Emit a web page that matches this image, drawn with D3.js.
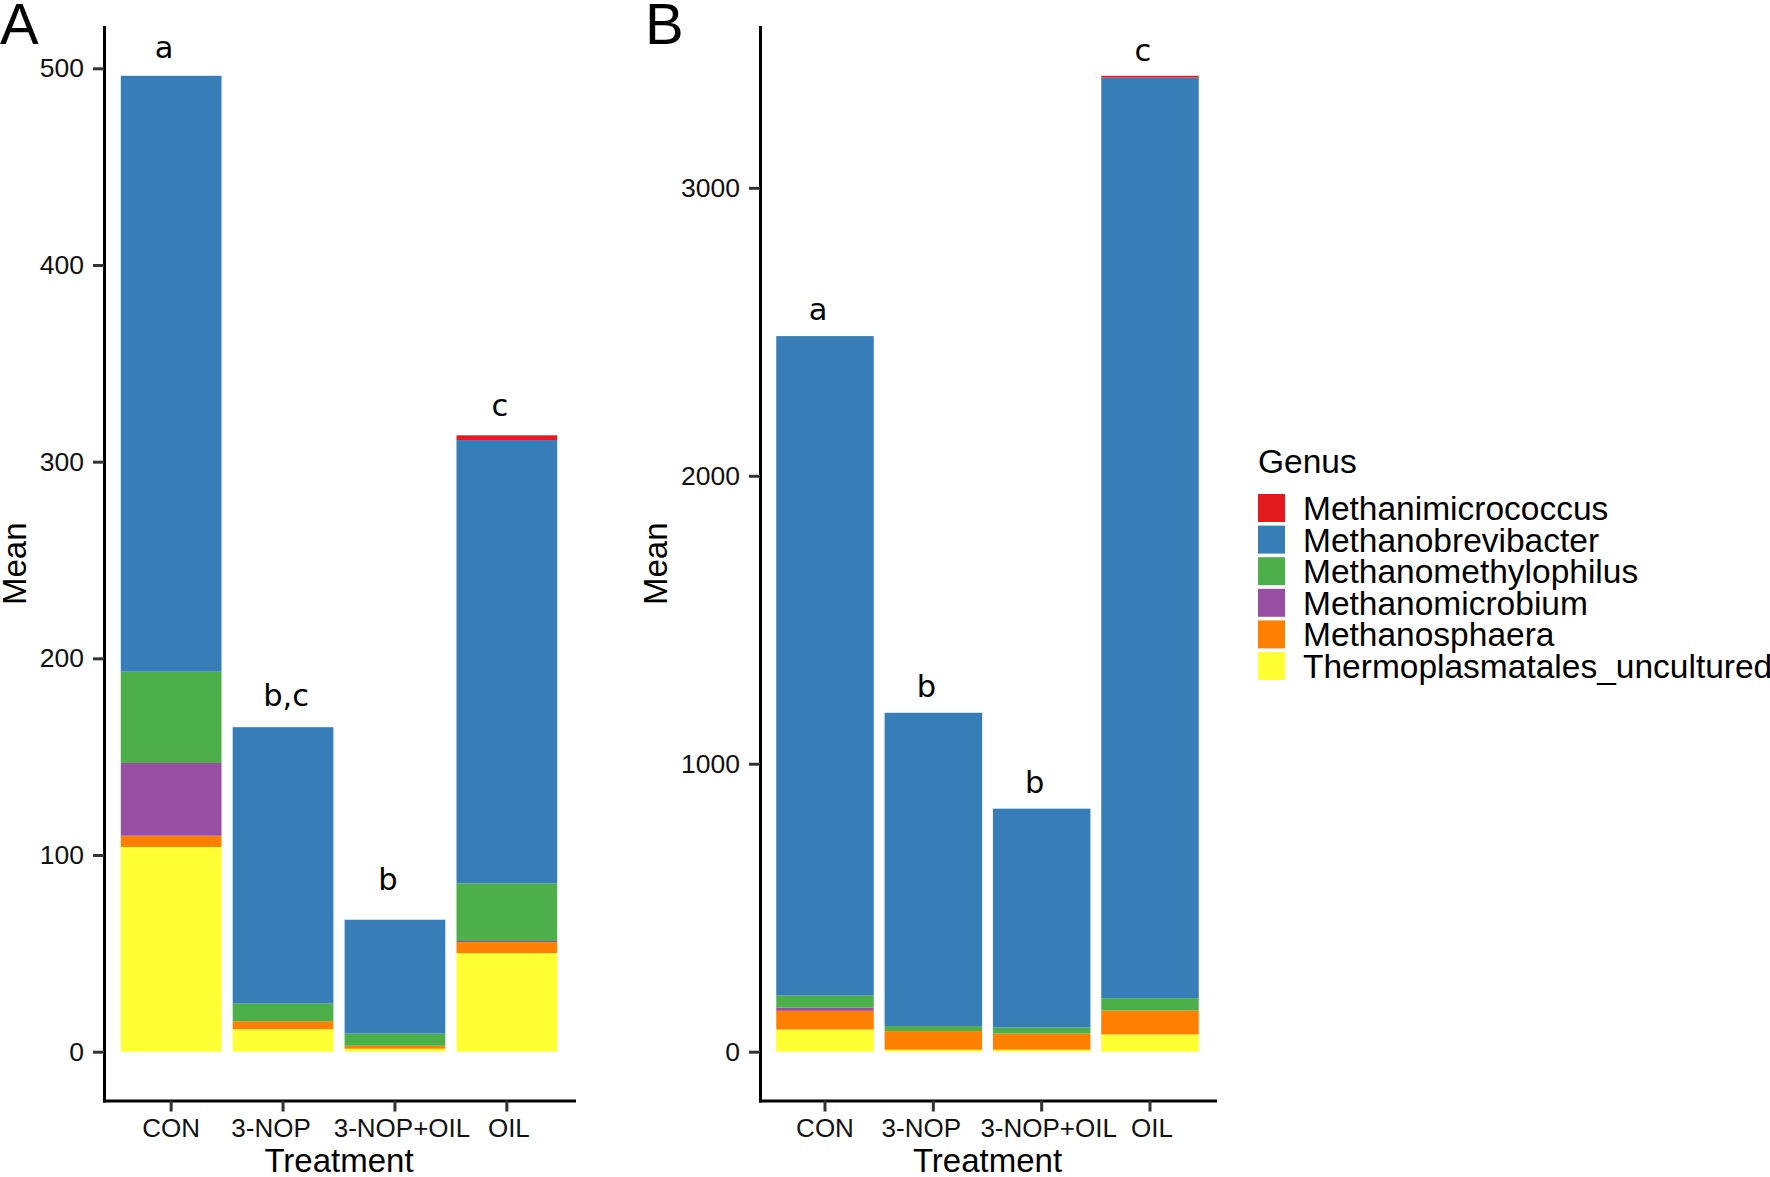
<!DOCTYPE html>
<html>
<head>
<meta charset="utf-8">
<script src="https://cdn.jsdelivr.net/npm/d3@7"></script>
<style>
  html, body { margin: 0; padding: 0; background: #fff; }
  svg { display: block; }
</style>
</head>
<body>
<svg id="chart" width="1770" height="1177"></svg>
<script>
// ---------------- data ----------------
const categories = ["CON", "3-NOP", "3-NOP+OIL", "OIL"];
const genera = ["Methanimicrococcus", "Methanobrevibacter", "Methanomethylophilus",
                "Methanomicrobium", "Methanosphaera", "Thermoplasmatales_uncultured"];
const genusColors = ["#E41A1C", "#377EB8", "#4DAF4A", "#984EA3", "#FF7F00", "#FFFF33"];

// Panel A (values per category, in category order)
const A_Methanimicrococcus   = [0, 0, 0, 2.4];
const A_Methanobrevibacter   = [303, 140.5, 57.9, 225.4];
const A_Methanomethylophilus = [46.4, 9.0, 6.2, 29.3];
const A_Methanomicrobium     = [37, 0, 0, 0.6];
const A_Methanosphaera       = [5.7, 4.1, 1.5, 5.6];
const A_Thermoplasmatales    = [104.1, 11.4, 1.5, 50.1];
const A_letters   = ["a", "b,c", "b", "c"];
const A_letterPos = [505, 176, 82, 323];
const A_ticks = [0, 100, 200, 300, 400, 500];

// Panel B
const B_Methanimicrococcus   = [0, 0, 0, 6];
const B_Methanobrevibacter   = [2290, 1088, 760, 3197];
const B_Methanomethylophilus = [42, 17.5, 21, 43];
const B_Methanomicrobium     = [11, 0, 0, 0];
const B_Methanosphaera       = [65, 64.5, 56, 83];
const B_Thermoplasmatales    = [77, 7, 7, 60];
const B_letters   = ["a", "b", "b", "c"];
const B_letterPos = [2540, 1233, 898, 3440];
const B_ticks = [0, 1000, 2000, 3000];

// ---------------- drawing ----------------
const svg = d3.select("#chart");
const FONT = "'Liberation Sans', Arial, sans-serif";
const plotTop = 27, plotBottom = 1100.5;
const color = d3.scaleOrdinal().domain(genera).range(genusColors);
const stackOrder = genera.slice().reverse(); // bottom to top

function buildRows(series) {
  return categories.map((c, i) => {
    const r = { cat: c };
    genera.forEach((g, k) => r[g] = series[k][i]);
    return r;
  });
}

function drawPanel(cfg) {
  const rows = buildRows(cfg.series);
  const totals = rows.map(r => d3.sum(genera, g => r[g]));
  const maxT = d3.max(totals);
  const y = d3.scaleLinear().domain([-0.05 * maxT, 1.05 * maxT]).range([plotBottom, plotTop]);
  const x = d3.scaleBand().domain(categories).range([cfg.left, cfg.right])
    .paddingInner(0.1).paddingOuter(0.15);

  const g = svg.append("g");
  const stacked = d3.stack().keys(stackOrder)(rows);

  g.selectAll("g.layer").data(stacked).join("g")
    .attr("class", "layer")
    .attr("fill", d => color(d.key))
    .selectAll("rect").data(d => d).join("rect")
    .attr("x", d => x(d.data.cat))
    .attr("width", x.bandwidth())
    .attr("y", d => y(d[1]))
    .attr("height", d => Math.max(0, y(d[0]) - y(d[1])));

  // letters
  g.selectAll("text.letter").data(categories).join("text")
    .attr("class", "letter")
    .attr("x", (c, i) => x(c) + x.bandwidth() / 2 + (cfg.letters[i].length > 1 ? 3 : -7))
    .attr("y", (c, i) => y(cfg.letterPos[i]))
    .attr("text-anchor", "middle")
    .attr("font-family", "'DejaVu Sans', sans-serif")
    .attr("font-size", 30.5)
    .attr("fill", "#000")
    .text((c, i) => cfg.letters[i]);

  // y axis
  const yAxis = g.append("g").attr("transform", `translate(${cfg.left},0)`)
    .call(d3.axisLeft(y).tickValues(cfg.ticks).tickSize(11).tickSizeOuter(0).tickPadding(9)
      .tickFormat(d3.format("d")));
  yAxis.select(".domain").attr("stroke", "#000").attr("stroke-width", 3).attr("stroke-linecap", "square");
  yAxis.selectAll(".tick line").attr("stroke", "#333").attr("stroke-width", 3);
  yAxis.selectAll(".tick text").attr("font-family", FONT).attr("font-size", 26.5).attr("fill", "#111");

  // x axis
  const dxs = [0, -12, 7, 2];
  const xAxis = g.append("g").attr("transform", `translate(0,${plotBottom})`)
    .call(d3.axisBottom(x).tickSize(11).tickSizeOuter(0).tickPadding(7));
  xAxis.select(".domain").attr("stroke", "#000").attr("stroke-width", 3).attr("stroke-linecap", "square");
  xAxis.selectAll(".tick line").attr("stroke", "#333").attr("stroke-width", 3);
  xAxis.selectAll(".tick text").attr("font-family", FONT).attr("font-size", 26).attr("fill", "#111")
    .attr("dx", (d, i) => dxs[i]);

  // titles
  g.append("text")
    .attr("x", (cfg.left + cfg.right) / 2).attr("y", 1172)
    .attr("text-anchor", "middle").attr("font-family", FONT).attr("font-size", 33)
    .text("Treatment");
  g.append("text")
    .attr("transform", `translate(${cfg.meanX},${(plotTop + plotBottom) / 2}) rotate(-90)`)
    .attr("text-anchor", "middle").attr("dy", "0.35em")
    .attr("font-family", FONT).attr("font-size", 33)
    .text("Mean");
  g.append("text")
    .attr("x", cfg.tagX).attr("y", 44)
    .attr("font-family", FONT).attr("font-size", 58)
    .text(cfg.tag);
}

drawPanel({
  left: 104, right: 574, meanX: 14, tagX: 0, tag: "A",
  series: [A_Methanimicrococcus, A_Methanobrevibacter, A_Methanomethylophilus,
           A_Methanomicrobium, A_Methanosphaera, A_Thermoplasmatales],
  letters: A_letters, letterPos: A_letterPos, ticks: A_ticks
});
drawPanel({
  left: 760, right: 1215, meanX: 655, tagX: 645, tag: "B",
  series: [B_Methanimicrococcus, B_Methanobrevibacter, B_Methanomethylophilus,
           B_Methanomicrobium, B_Methanosphaera, B_Thermoplasmatales],
  letters: B_letters, letterPos: B_letterPos, ticks: B_ticks
});

// legend
const leg = svg.append("g").attr("transform", "translate(1258,0)");
leg.append("text").attr("x", 0).attr("y", 473)
  .attr("font-family", FONT).attr("font-size", 33.5).text("Genus");
const items = leg.selectAll("g.item").data(genera).join("g")
  .attr("class", "item")
  .attr("transform", (d, i) => `translate(0,${494 + i * 31.6})`);
items.append("rect").attr("width", 27).attr("height", 28).attr("fill", d => color(d));
items.append("text").attr("x", 45).attr("y", 14).attr("dy", "0.36em")
  .attr("font-family", FONT).attr("font-size", 33.5).text(d => d);
</script>
</body>
</html>
